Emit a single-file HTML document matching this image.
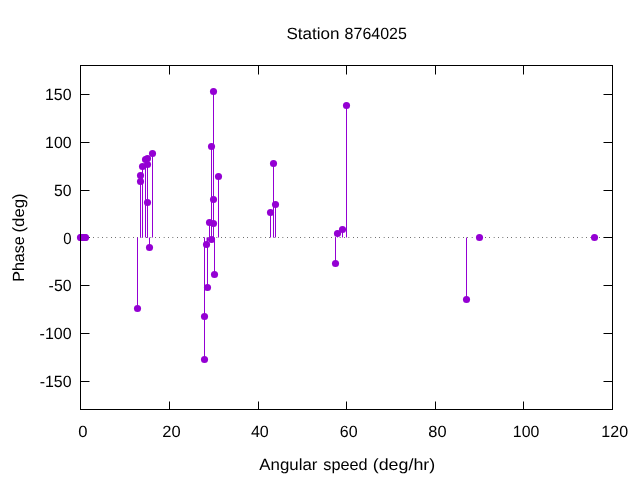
<!DOCTYPE html>
<html lang="en"><head><meta charset="utf-8"><title>Station 8764025</title>
<style>html,body{margin:0;padding:0;background:#fff;}body{width:640px;height:480px;overflow:hidden;}svg{display:block;will-change:transform;}text{font-family:"Liberation Sans",sans-serif;font-size:16.2px;fill:#000;text-rendering:geometricPrecision;}</style>
</head><body>
<svg width="640" height="480" viewBox="0 0 640 480">
<rect x="0" y="0" width="640" height="480" fill="#ffffff"/>
<line x1="80.23" y1="237.5" x2="612.5" y2="237.5" stroke="#000" stroke-opacity="1" stroke-width="1" stroke-dasharray="0.55 3.85"/>
<g stroke="#000" stroke-width="1" fill="none">
<path d="M169.5 409.5 V401.5 M169.5 65.5 V74.5"/>
<path d="M258.5 409.5 V401.5 M258.5 65.5 V74.5"/>
<path d="M346.5 409.5 V401.5 M346.5 65.5 V74.5"/>
<path d="M435.5 409.5 V401.5 M435.5 65.5 V74.5"/>
<path d="M523.5 409.5 V401.5 M523.5 65.5 V74.5"/>
<path d="M80.5 94.5 H89.5 M612.5 94.5 H603.5"/>
<path d="M80.5 142.5 H89.5 M612.5 142.5 H603.5"/>
<path d="M80.5 190.5 H89.5 M612.5 190.5 H603.5"/>
<path d="M80.5 237.5 H89.5 M612.5 237.5 H603.5"/>
<path d="M80.5 285.5 H89.5 M612.5 285.5 H603.5"/>
<path d="M80.5 333.5 H89.5 M612.5 333.5 H603.5"/>
<path d="M80.5 381.5 H89.5 M612.5 381.5 H603.5"/>
</g>
<g stroke="#9400D3" stroke-width="1" fill="none">
<path d="M137.5 237.5 V308.5"/>
<path d="M140.5 237.5 V175.5"/>
<path d="M140.5 237.5 V181.5"/>
<path d="M142.5 237.5 V166.5"/>
<path d="M145.5 237.5 V159.5"/>
<path d="M147.5 237.5 V158.5"/>
<path d="M147.5 237.5 V164.5"/>
<path d="M147.5 237.5 V202.5"/>
<path d="M149.5 237.5 V247.5"/>
<path d="M152.5 237.5 V153.5"/>
<path d="M204.5 237.5 V316.5"/>
<path d="M204.5 237.5 V359.5"/>
<path d="M207.0 237.5 V244.5"/>
<path d="M207.5 237.5 V287.5"/>
<path d="M209.5 237.5 V222.5"/>
<path d="M211.5 237.5 V146.5"/>
<path d="M211.5 237.5 V239.5"/>
<path d="M213.5 237.5 V91.5"/>
<path d="M213.5 237.5 V199.5"/>
<path d="M213.5 237.5 V223.5"/>
<path d="M214.5 237.5 V274.5"/>
<path d="M218.5 237.5 V176.5"/>
<path d="M270.5 237.5 V212.5"/>
<path d="M273.5 237.5 V163.5"/>
<path d="M275.5 237.5 V204.5"/>
<path d="M335.5 237.5 V263.5"/>
<path d="M337.5 237.5 V233.5"/>
<path d="M342.5 237.5 V229.5"/>
<path d="M346.5 237.5 V105.5"/>
<path d="M466.5 237.5 V299.5"/>
</g>
<g fill="#9400D3" stroke="none">
<circle cx="80.5" cy="237.5" r="3.55"/>
<circle cx="81.0" cy="237.5" r="3.55"/>
<circle cx="83.0" cy="237.5" r="3.55"/>
<circle cx="85.0" cy="237.5" r="3.55"/>
<circle cx="85.5" cy="237.5" r="3.55"/>
<circle cx="137.5" cy="308.5" r="3.55"/>
<circle cx="140.5" cy="175.5" r="3.55"/>
<circle cx="140.5" cy="181.5" r="3.55"/>
<circle cx="142.5" cy="166.5" r="3.55"/>
<circle cx="145.5" cy="159.5" r="3.55"/>
<circle cx="147.5" cy="158.5" r="3.55"/>
<circle cx="147.5" cy="164.5" r="3.55"/>
<circle cx="147.5" cy="202.5" r="3.55"/>
<circle cx="149.5" cy="247.5" r="3.55"/>
<circle cx="152.5" cy="153.5" r="3.55"/>
<circle cx="204.5" cy="316.5" r="3.55"/>
<circle cx="204.5" cy="359.5" r="3.55"/>
<circle cx="206.5" cy="244.5" r="3.55"/>
<circle cx="207.5" cy="287.5" r="3.55"/>
<circle cx="209.5" cy="222.5" r="3.55"/>
<circle cx="211.5" cy="146.5" r="3.55"/>
<circle cx="211.5" cy="239.5" r="3.55"/>
<circle cx="213.5" cy="91.5" r="3.55"/>
<circle cx="213.5" cy="199.5" r="3.55"/>
<circle cx="213.5" cy="223.5" r="3.55"/>
<circle cx="214.5" cy="274.5" r="3.55"/>
<circle cx="218.5" cy="176.5" r="3.55"/>
<circle cx="270.5" cy="212.5" r="3.55"/>
<circle cx="273.5" cy="163.5" r="3.55"/>
<circle cx="275.5" cy="204.5" r="3.55"/>
<circle cx="335.5" cy="263.5" r="3.55"/>
<circle cx="337.5" cy="233.5" r="3.55"/>
<circle cx="342.5" cy="229.5" r="3.55"/>
<circle cx="346.5" cy="105.5" r="3.55"/>
<circle cx="466.5" cy="299.5" r="3.55"/>
<circle cx="479.5" cy="237.5" r="3.55"/>
<circle cx="594.5" cy="237.5" r="3.55"/>
</g>
<rect x="80.5" y="65.5" width="532.0" height="344.0" fill="none" stroke="#000" stroke-width="1"/>
<text x="286.43" y="39.00" textLength="53.11" lengthAdjust="spacingAndGlyphs">Station</text>
<text x="344.61" y="39.00" textLength="62.24" lengthAdjust="spacingAndGlyphs">8764025</text>
<text x="259.27" y="470.00" textLength="58.20" lengthAdjust="spacingAndGlyphs">Angular</text>
<text x="323.36" y="470.00" textLength="44.29" lengthAdjust="spacingAndGlyphs">speed</text>
<text x="372.69" y="470.00" textLength="62.52" lengthAdjust="spacingAndGlyphs">(deg/hr)</text>
<text x="78.32" y="437.00" textLength="9.27" lengthAdjust="spacingAndGlyphs">0</text>
<text x="162.27" y="437.00" textLength="18.36" lengthAdjust="spacingAndGlyphs">20</text>
<text x="250.95" y="437.00" textLength="17.87" lengthAdjust="spacingAndGlyphs">40</text>
<text x="339.75" y="437.00" textLength="17.81" lengthAdjust="spacingAndGlyphs">60</text>
<text x="428.35" y="437.00" textLength="18.23" lengthAdjust="spacingAndGlyphs">80</text>
<text x="512.84" y="437.00" textLength="26.47" lengthAdjust="spacingAndGlyphs">100</text>
<text x="601.33" y="437.00" textLength="26.73" lengthAdjust="spacingAndGlyphs">120</text>
<text x="44.99" y="100.00" textLength="26.57" lengthAdjust="spacingAndGlyphs">150</text>
<text x="45.09" y="148.00" textLength="26.47" lengthAdjust="spacingAndGlyphs">100</text>
<text x="54.07" y="196.00" textLength="17.48" lengthAdjust="spacingAndGlyphs">50</text>
<text x="63.22" y="244.00" textLength="8.30" lengthAdjust="spacingAndGlyphs">0</text>
<text x="48.60" y="291.00" textLength="22.96" lengthAdjust="spacingAndGlyphs">-50</text>
<text x="39.60" y="339.00" textLength="31.97" lengthAdjust="spacingAndGlyphs">-100</text>
<text x="39.70" y="387.00" textLength="31.86" lengthAdjust="spacingAndGlyphs">-150</text>
<g transform="rotate(-90)">
<text x="-281.82" y="23.70" textLength="45.64" lengthAdjust="spacingAndGlyphs">Phase</text>
<text x="-232.54" y="23.70" textLength="39.19" lengthAdjust="spacingAndGlyphs">(deg)</text>
</g>
</svg>
</body></html>
